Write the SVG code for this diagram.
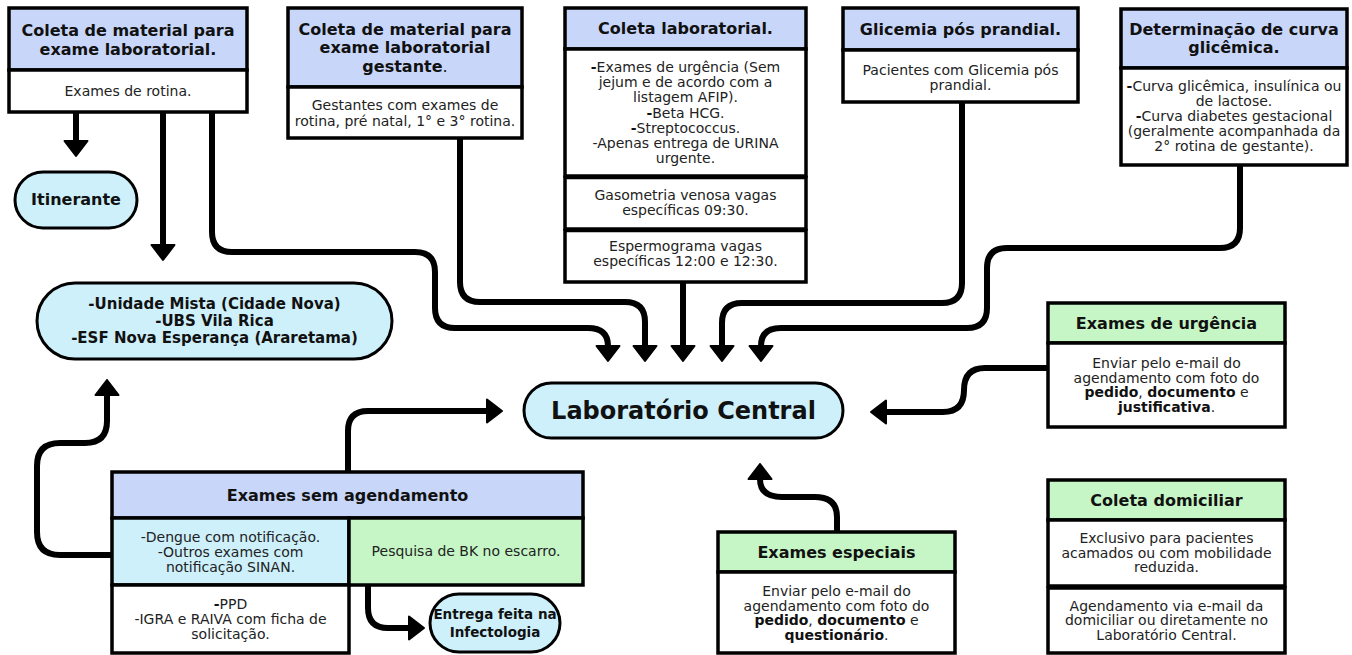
<svg xmlns="http://www.w3.org/2000/svg" width="1352" height="655" viewBox="0 0 1352 655">
<style>
.bx{stroke:#000;stroke-width:3.5}
.hb{fill:#c8d6fa}
.hg{fill:#c6f6c6}
.cw{fill:#fff}
.cc{fill:#cdf0fb}
.pill{fill:#cdf0fb;stroke:#000;stroke-width:3}
text{font-family:'DejaVu Sans',sans-serif;text-anchor:middle;fill:#111}
.h{font-weight:bold;font-size:16px}
.b{font-size:14px;fill:#222}
.k{font-weight:bold;fill:#111}
.conn{fill:none;stroke:#000;stroke-width:6;stroke-linecap:round;stroke-linejoin:round}
</style>
<defs>
<marker id="ah" markerUnits="userSpaceOnUse" viewBox="0 0 18 26" markerWidth="18" markerHeight="26" refX="1.5" refY="13" orient="auto">
<path d="M1.5,1.5 L16.5,13 L1.5,24.5 Z" fill="#000" stroke="#000" stroke-width="2" stroke-linejoin="round"/>
</marker>
</defs>
<rect width="1352" height="655" fill="#fff"/>

<g id="connectors">
<path class="conn" marker-end="url(#ah)" d="M76,112 V141"/>
<path class="conn" marker-end="url(#ah)" d="M163,112 V245"/>
<path class="conn" marker-end="url(#ah)" d="M212,112 V232 Q212,252 232,252 H415 Q435,252 435,272 V308 Q435,328 455,328 H588 Q608,328 608,346"/>
<path class="conn" marker-end="url(#ah)" d="M460,138 V282 Q460,302 480,302 H625 Q645,302 645,322 V346"/>
<path class="conn" marker-end="url(#ah)" d="M683,282 V346"/>
<path class="conn" marker-end="url(#ah)" d="M962,102 V283 Q962,303 942,303 H742 Q722,303 722,323 V346"/>
<path class="conn" marker-end="url(#ah)" d="M1240,165 V228 Q1240,248 1220,248 H1007 Q987,248 987,268 V308 Q987,328 967,328 H781 Q761,328 761,346"/>
<path class="conn" marker-end="url(#ah)" d="M1048,368 H985 Q964,368 964,390 Q964,412 943,412 H886"/>
<path class="conn" marker-end="url(#ah)" d="M348,472 V431 Q348,411 368,411 H487"/>
<path class="conn" marker-end="url(#ah)" d="M112,555 H60 Q37,555 37,532 V466 Q37,443 60,443 H85 Q107,443 107,421 V395"/>
<path class="conn" marker-end="url(#ah)" d="M368,585 V608 Q368,628 388,628 H409"/>
<path class="conn" marker-end="url(#ah)" d="M837,532 V517 Q837,497 815,497 H782 Q760,497 760,479"/>
</g>

<g id="coleta-material">
<rect class="bx hb" x="9" y="8" width="238" height="62"/>
<rect class="bx cw" x="9" y="70" width="238" height="42"/>
<text class="h" x="128" y="36">Coleta de material para</text>
<text class="h" x="128" y="55">exame laboratorial.</text>
<text class="b" x="128" y="96">Exames de rotina.</text>
</g>

<g id="coleta-gestante">
<rect class="bx hb" x="288" y="8" width="234" height="79"/>
<rect class="bx cw" x="288" y="87" width="234" height="51"/>
<text class="h" x="405" y="35">Coleta de material para</text>
<text class="h" x="405" y="53">exame laboratorial</text>
<text class="h" x="405" y="72">gestante<tspan font-weight="normal">.</tspan></text>
<text class="b" x="405" y="110">Gestantes com exames de</text>
<text class="b" x="405" y="126">rotina, pré natal, 1° e 3° rotina.</text>
</g>

<g id="coleta-laboratorial">
<rect class="bx hb" x="565" y="8" width="241" height="41"/>
<rect class="bx cw" x="565" y="49" width="241" height="127"/>
<rect class="bx cw" x="565" y="177.5" width="241" height="51.5"/>
<rect class="bx cw" x="565" y="230.5" width="241" height="51.5"/>
<text class="h" x="685.5" y="34">Coleta laboratorial.</text>
<text class="b" x="685.5" y="72"><tspan class="k">-</tspan>Exames de urgência (Sem</text>
<text class="b" x="685.5" y="87">jejum e de acordo com a</text>
<text class="b" x="685.5" y="102">listagem AFIP).</text>
<text class="b" x="685.5" y="118"><tspan class="k">-</tspan>Beta HCG.</text>
<text class="b" x="685.5" y="133"><tspan class="k">-</tspan>Streptococcus.</text>
<text class="b" x="685.5" y="148">-Apenas entrega de URINA</text>
<text class="b" x="685.5" y="163">urgente.</text>
<text class="b" x="685.5" y="200">Gasometria venosa vagas</text>
<text class="b" x="685.5" y="215">específicas 09:30.</text>
<text class="b" x="685.5" y="251">Espermograma vagas</text>
<text class="b" x="685.5" y="266">específicas 12:00 e 12:30.</text>
</g>

<g id="glicemia">
<rect class="bx hb" x="843" y="8" width="235" height="42"/>
<rect class="bx cw" x="843" y="50" width="235" height="52"/>
<text class="h" x="960.5" y="35">Glicemia pós prandial.</text>
<text class="b" x="960.5" y="75">Pacientes com Glicemia pós</text>
<text class="b" x="960.5" y="90">prandial.</text>
</g>

<g id="curva-glicemica">
<rect class="bx hb" x="1121" y="9" width="226" height="59"/>
<rect class="bx cw" x="1121" y="68" width="226" height="97"/>
<text class="h" x="1234" y="35">Determinação de curva</text>
<text class="h" x="1234" y="53">glicêmica.</text>
<text class="b" x="1234" y="91"><tspan class="k">-</tspan>Curva glicêmica, insulínica ou</text>
<text class="b" x="1234" y="106">de lactose.</text>
<text class="b" x="1234" y="121"><tspan class="k">-</tspan>Curva diabetes gestacional</text>
<text class="b" x="1234" y="136">(geralmente acompanhada da</text>
<text class="b" x="1234" y="151">2° rotina de gestante).</text>
</g>

<g id="itinerante">
<rect class="pill" x="15" y="172" width="122" height="56" rx="28"/>
<text class="h" x="76" y="205" font-size="15">Itinerante</text>
</g>

<g id="unidades">
<rect class="pill" x="37" y="283" width="355" height="76" rx="38"/>
<text class="h" x="214.5" y="309" style="font-size:15px">-Unidade Mista (Cidade Nova)</text>
<text class="h" x="214.5" y="326" style="font-size:15px">-UBS Vila Rica</text>
<text class="h" x="214.5" y="343" style="font-size:15px">-ESF Nova Esperança (Araretama)</text>
</g>

<g id="laboratorio-central">
<rect class="pill" x="524" y="383" width="319" height="55" rx="27.5"/>
<text x="683.5" y="419" style="font-weight:bold;font-size:24px">Laboratório Central</text>
</g>

<g id="exames-urgencia">
<rect class="bx hg" x="1048" y="303" width="237" height="40"/>
<rect class="bx cw" x="1048" y="343" width="237" height="84"/>
<text class="h" x="1166.5" y="329">Exames de urgência</text>
<text class="b" x="1166.5" y="368">Enviar pelo e-mail do</text>
<text class="b" x="1166.5" y="383">agendamento com foto do</text>
<text class="b" x="1166.5" y="397"><tspan class="k">pedido</tspan>, <tspan class="k">documento</tspan> e</text>
<text class="b" x="1166.5" y="412"><tspan class="k">justificativa</tspan>.</text>
</g>

<g id="exames-sem-agendamento">
<rect class="bx hb" x="112" y="472" width="471" height="46"/>
<rect class="bx cc" x="112" y="518" width="237" height="67"/>
<rect class="bx hg" x="349" y="518" width="234" height="67"/>
<rect class="bx cw" x="112" y="585" width="237" height="68"/>
<text class="h" x="347.5" y="501">Exames sem agendamento</text>
<text class="b" x="230.5" y="542">-Dengue com notificação.</text>
<text class="b" x="230.5" y="557">-Outros exames com</text>
<text class="b" x="230.5" y="572">notificação SINAN.</text>
<text class="b" x="466" y="556">Pesquisa de BK no escarro.</text>
<text class="b" x="230.5" y="609"><tspan class="k">-</tspan>PPD</text>
<text class="b" x="230.5" y="624">-IGRA e RAIVA com ficha de</text>
<text class="b" x="230.5" y="639">solicitação.</text>
</g>

<g id="entrega-infectologia">
<rect class="pill" x="430" y="594" width="130" height="58" rx="29"/>
<text class="h" x="495" y="619" style="font-size:13.5px">Entrega feita na</text>
<text class="h" x="495" y="637" style="font-size:13.5px">Infectologia</text>
</g>

<g id="exames-especiais">
<rect class="bx hg" x="718" y="532" width="237" height="40"/>
<rect class="bx cw" x="718" y="572" width="237" height="81"/>
<text class="h" x="836.5" y="558">Exames especiais</text>
<text class="b" x="836.5" y="596">Enviar pelo e-mail do</text>
<text class="b" x="836.5" y="611">agendamento com foto do</text>
<text class="b" x="836.5" y="625"><tspan class="k">pedido</tspan>, <tspan class="k">documento</tspan> e</text>
<text class="b" x="836.5" y="640"><tspan class="k">questionário</tspan>.</text>
</g>

<g id="coleta-domiciliar">
<rect class="bx hg" x="1048" y="480" width="237" height="40"/>
<rect class="bx cw" x="1048" y="520" width="237" height="66"/>
<rect class="bx cw" x="1048" y="588" width="237" height="65"/>
<text class="h" x="1166.5" y="506">Coleta domiciliar</text>
<text class="b" x="1166.5" y="543">Exclusivo para pacientes</text>
<text class="b" x="1166.5" y="558">acamados ou com mobilidade</text>
<text class="b" x="1166.5" y="572">reduzida.</text>
<text class="b" x="1166.5" y="611">Agendamento via e-mail da</text>
<text class="b" x="1166.5" y="625">domiciliar ou diretamente no</text>
<text class="b" x="1166.5" y="640">Laboratório Central.</text>
</g>
</svg>
